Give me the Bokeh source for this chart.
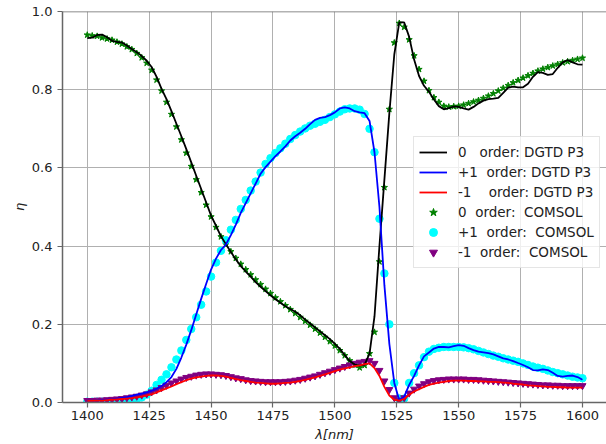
from bokeh.plotting import figure
from bokeh.models import (Range1d, FixedTicker, NumeralTickFormatter, Legend, LegendItem,
                          Span)
from bokeh.embed import file_html
from bokeh.resources import INLINE

# wavelength grid (nm)
wl = list(range(1400, 1602, 2))

# 0 order DGTD P3
dgtd_0 = [0.932, 0.933, 0.940, 0.941, 0.934, 0.925, 0.922, 0.921, 0.913, 0.904,
          0.896, 0.886, 0.874, 0.858, 0.833, 0.802, 0.776, 0.745, 0.713, 0.681,
          0.648, 0.614, 0.580, 0.546, 0.512, 0.478, 0.452, 0.425, 0.405, 0.385,
          0.366, 0.349, 0.335, 0.322, 0.308, 0.296, 0.285, 0.274, 0.264, 0.255,
          0.246, 0.239, 0.232, 0.223, 0.212, 0.202, 0.192, 0.182, 0.172, 0.162,
          0.150, 0.137, 0.121, 0.106, 0.097, 0.094, 0.097, 0.125, 0.220, 0.400,
          0.570, 0.740, 0.890, 0.972, 0.972, 0.935, 0.877, 0.835, 0.810, 0.795,
          0.775, 0.758, 0.750, 0.753, 0.757, 0.756, 0.752, 0.749, 0.756, 0.765,
          0.772, 0.776, 0.777, 0.779, 0.792, 0.805, 0.808, 0.806, 0.806, 0.815,
          0.833, 0.845, 0.843, 0.838, 0.840, 0.856, 0.870, 0.876, 0.870, 0.865,
          0.864]

# +1 order DGTD P3
dgtd_p1 = [0.004, 0.004, 0.005, 0.006, 0.007, 0.008, 0.010, 0.012, 0.014, 0.017,
           0.020, 0.023, 0.026, 0.030, 0.035, 0.042, 0.052, 0.065, 0.086, 0.115,
           0.148, 0.185, 0.225, 0.265, 0.303, 0.340, 0.368, 0.390, 0.404, 0.428,
           0.455, 0.485, 0.510, 0.535, 0.560, 0.585, 0.602, 0.616, 0.630, 0.642,
           0.655, 0.670, 0.681, 0.690, 0.700, 0.712, 0.723, 0.728, 0.730, 0.735,
           0.742, 0.752, 0.755, 0.752, 0.745, 0.742, 0.740, 0.720, 0.640, 0.500,
           0.300, 0.150, 0.050, 0.006, 0.015, 0.045, 0.068, 0.095, 0.118, 0.128,
           0.138, 0.142, 0.142, 0.141, 0.144, 0.147, 0.145, 0.139, 0.134, 0.130,
           0.128, 0.126, 0.123, 0.118, 0.113, 0.110, 0.106, 0.101, 0.096, 0.090,
           0.083, 0.082, 0.085, 0.083, 0.076, 0.068, 0.066, 0.068, 0.069, 0.065,
           0.058]

# -1 order DGTD P3
dgtd_m1 = [0.004, 0.004, 0.005, 0.005, 0.006, 0.007, 0.008, 0.009, 0.010, 0.011,
           0.013, 0.015, 0.018, 0.021, 0.026, 0.031, 0.036, 0.041, 0.047, 0.052,
           0.057, 0.061, 0.064, 0.066, 0.068, 0.069, 0.069, 0.068, 0.066, 0.063,
           0.060, 0.057, 0.055, 0.053, 0.051, 0.050, 0.049, 0.048, 0.048, 0.049,
           0.050, 0.051, 0.053, 0.055, 0.058, 0.061, 0.064, 0.068, 0.072, 0.076,
           0.080, 0.084, 0.087, 0.090, 0.093, 0.095, 0.098, 0.100, 0.088, 0.068,
           0.040, 0.018, 0.007, 0.005, 0.009, 0.020, 0.028, 0.034, 0.040, 0.045,
           0.048, 0.051, 0.053, 0.055, 0.056, 0.056, 0.056, 0.055, 0.055, 0.054,
           0.054, 0.053, 0.053, 0.052, 0.051, 0.050, 0.048, 0.047, 0.046, 0.044,
           0.043, 0.042, 0.041, 0.040, 0.040, 0.039, 0.039, 0.038, 0.038, 0.038,
           0.038]

# 0 order COMSOL
comsol_0 = [0.940, 0.938, 0.937, 0.933, 0.930, 0.927, 0.922, 0.917, 0.910, 0.903,
            0.893, 0.882, 0.868, 0.850, 0.825, 0.797, 0.768, 0.737, 0.705, 0.672,
            0.638, 0.604, 0.570, 0.537, 0.505, 0.475, 0.448, 0.424, 0.404, 0.386,
            0.369, 0.354, 0.340, 0.327, 0.314, 0.302, 0.290, 0.279, 0.268, 0.258,
            0.248, 0.238, 0.228, 0.218, 0.208, 0.198, 0.188, 0.178, 0.167, 0.156,
            0.145, 0.133, 0.120, 0.107, 0.096, 0.089, 0.095, 0.125, 0.180, 0.360,
            0.550, 0.750, 0.920, 0.970, 0.960, 0.928, 0.887, 0.852, 0.822, 0.798,
            0.780, 0.768, 0.758, 0.756, 0.757, 0.758, 0.761, 0.765, 0.769, 0.773,
            0.778, 0.784, 0.790, 0.797, 0.804, 0.811, 0.818, 0.824, 0.830, 0.836,
            0.842, 0.848, 0.853, 0.857, 0.861, 0.865, 0.869, 0.872, 0.875, 0.878,
            0.881]

# +1 order COMSOL
comsol_p1 = [0.002, 0.002, 0.002, 0.002, 0.002, 0.003, 0.003, 0.004, 0.005, 0.006,
             0.008, 0.013, 0.020, 0.030, 0.045, 0.058, 0.072, 0.090, 0.110, 0.133,
             0.160, 0.188, 0.218, 0.250, 0.284, 0.322, 0.358, 0.388, 0.415, 0.442,
             0.467, 0.495, 0.518, 0.542, 0.565, 0.588, 0.610, 0.625, 0.638, 0.650,
             0.662, 0.674, 0.684, 0.693, 0.701, 0.708, 0.713, 0.718, 0.723, 0.730,
             0.737, 0.744, 0.750, 0.752, 0.752, 0.749, 0.738, 0.700, 0.640, 0.470,
             0.330, 0.200, 0.050, 0.010, 0.010, 0.050, 0.075, 0.095, 0.116, 0.130,
             0.137, 0.140, 0.142, 0.142, 0.142, 0.142, 0.141, 0.139, 0.136, 0.132,
             0.128, 0.124, 0.120, 0.117, 0.113, 0.110, 0.107, 0.104, 0.100, 0.096,
             0.092, 0.089, 0.086, 0.082, 0.078, 0.075, 0.072, 0.069, 0.066, 0.064,
             0.062]

# -1 order COMSOL
comsol_m1 = [0.005, 0.005, 0.006, 0.006, 0.007, 0.008, 0.009, 0.010, 0.012, 0.014,
             0.016, 0.019, 0.022, 0.027, 0.032, 0.038, 0.044, 0.050, 0.055, 0.060,
             0.064, 0.067, 0.070, 0.072, 0.073, 0.073, 0.072, 0.071, 0.069, 0.066,
             0.063, 0.061, 0.058, 0.056, 0.055, 0.054, 0.053, 0.053, 0.053, 0.053,
             0.054, 0.055, 0.057, 0.059, 0.062, 0.065, 0.068, 0.072, 0.076, 0.080,
             0.084, 0.088, 0.092, 0.096, 0.100, 0.103, 0.105, 0.107, 0.100, 0.082,
             0.055, 0.033, 0.012, 0.006, 0.012, 0.024, 0.034, 0.042, 0.048, 0.053,
             0.056, 0.058, 0.059, 0.060, 0.060, 0.060, 0.060, 0.059, 0.059, 0.058,
             0.057, 0.056, 0.055, 0.054, 0.053, 0.052, 0.051, 0.050, 0.049, 0.048,
             0.047, 0.046, 0.045, 0.045, 0.044, 0.044, 0.043, 0.043, 0.043, 0.043,
             0.043]

x_ticks = [1400, 1425, 1450, 1475, 1500, 1525, 1550, 1575, 1600]
y_ticks = [0.0, 0.2, 0.4, 0.6, 0.8, 1.0]

labels = ["0   order: DGTD P3", "+1  order: DGTD P3", "-1    order: DGTD P3",
          "0  order:  COMSOL", "+1  order:  COMSOL", "-1  order:  COMSOL"]

FONT = "DejaVu Sans"
SPINE = "#666666"

p = figure(width=606, height=444, output_backend="svg", toolbar_location=None,
           title=None,
           x_range=Range1d(1390, 1609.7), y_range=Range1d(0, 1.0),
           min_border_left=62, min_border_right=0, min_border_top=11, min_border_bottom=42)
p.outline_line_color = None
p.background_fill_color = "white"

# axes
p.xaxis.ticker = FixedTicker(ticks=x_ticks)
p.yaxis.ticker = FixedTicker(ticks=y_ticks)
p.yaxis.formatter = NumeralTickFormatter(format="0.0")
for ax in (p.xaxis[0], p.yaxis[0]):
    ax.axis_line_color = SPINE
    ax.axis_line_width = 1.5
    ax.major_tick_line_color = SPINE
    ax.major_tick_line_width = 1.2
    ax.major_tick_out = 5
    ax.major_tick_in = 0
    ax.minor_tick_line_color = None
    ax.major_label_text_font = FONT
    ax.major_label_text_font_size = "13px"
    ax.major_label_text_color = "#222222"
    ax.axis_label_text_font = FONT
    ax.axis_label_text_font_size = "13px"
    ax.axis_label_text_font_style = "italic"
    ax.axis_label_text_color = "#222222"
p.xaxis.major_label_standoff = 3
p.yaxis.major_label_standoff = 5
p.yaxis.axis_label = "η"
p.yaxis.axis_label_standoff = 2
p.xaxis.axis_label = "λ[nm]"
p.xaxis.axis_label_standoff = 4

# top spine
p.add_layout(Span(location=1.0, dimension="width", line_color=SPINE, line_width=1.5))

# grid
p.xgrid.grid_line_color = "#b0b0b0"
p.ygrid.grid_line_color = "#b0b0b0"
p.xgrid.grid_line_width = 1
p.ygrid.grid_line_width = 1

# markers (COMSOL)
r_s0 = p.scatter(wl, comsol_0, marker="star", size=6.5, color="green")
r_s1 = p.scatter(wl, comsol_p1, marker="circle", size=7.5, color="cyan")
r_sm = p.scatter(wl, comsol_m1, marker="inverted_triangle", size=7, color="purple")

# lines (DGTD)
r_l0 = p.line(wl, dgtd_0, color="black", line_width=1.8)
r_l1 = p.line(wl, dgtd_p1, color="blue", line_width=1.8)
r_lm = p.line(wl, dgtd_m1, color="red", line_width=1.8)

legend = Legend(items=[LegendItem(label=labels[0], renderers=[r_l0]),
                       LegendItem(label=labels[1], renderers=[r_l1]),
                       LegendItem(label=labels[2], renderers=[r_lm]),
                       LegendItem(label=labels[3], renderers=[r_s0]),
                       LegendItem(label=labels[4], renderers=[r_s1]),
                       LegendItem(label=labels[5], renderers=[r_sm])],
                location=(351, 134))
legend.label_text_font = FONT
legend.label_text_font_size = "13.5px"
legend.label_text_color = "#222222"
legend.glyph_width = 28
legend.glyph_height = 20
legend.label_height = 20
legend.label_standoff = 11
legend.spacing = 0
legend.padding = 5
legend.margin = 0
legend.border_line_color = "#cccccc"
legend.border_line_width = 1
legend.background_fill_alpha = 0.8
p.add_layout(legend)

open("out.html", "w").write(file_html(p, INLINE))
